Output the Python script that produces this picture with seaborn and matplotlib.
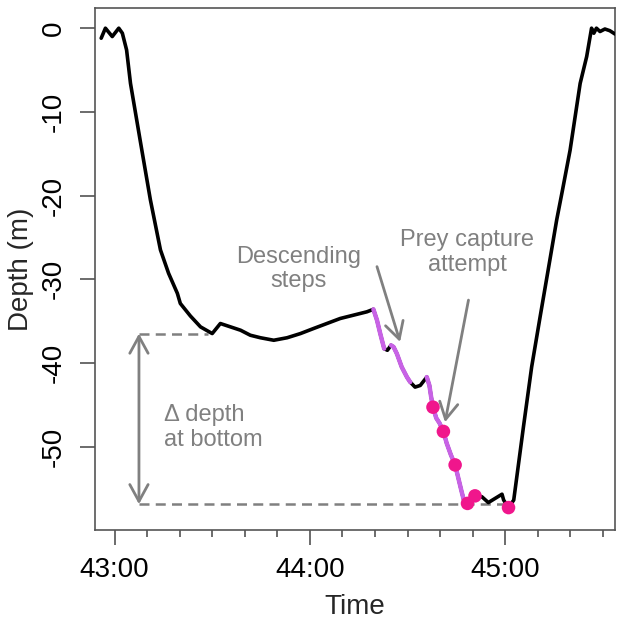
import numpy as np
import pandas as pd
import matplotlib
matplotlib.use("Agg")
import matplotlib.pyplot as plt
from matplotlib.ticker import MultipleLocator
import seaborn as sns

# Dive profile, time in seconds after 43:00, depth in metres
time_s = [-4.1, -2.8, -0.7, 1.3, 2.4,
          3.7, 4.9, 8.0, 11.0, 14.1, 16.6, 19.3, 20.2, 23.3, 26.4, 30.0,
          32.5, 35.6, 38.7, 41.7, 44.8, 48.9, 53.0, 57.1, 61.1, 65.2, 69.3,
          73.4, 77.5, 79.5,
          80.6, 81.6, 82.8, 83.8, 84.9, 85.7, 86.7, 88.2, 89.8, 90.8, 92.3,
          93.9, 95.9, 96.7, 97.2, 97.8, 98.8, 99.8, 101.0, 102.0, 103.3,
          104.6, 105.6, 106.6, 107.4, 108.4, 110.7, 112.8, 114.8, 116.9,
          119.0, 119.5, 121.0,
          122.6, 125.6, 128.1, 130.7, 133.7, 135.8, 137.5, 139.9, 143.0,
          145.0, 146.5, 147.2, 148.0, 149.1, 150.6, 152.1, 153.7]
depth_m = [-1.2, 0.0, -1.0, 0.0, -0.6,
           -2.6, -6.6, -13.7, -20.5, -26.5, -29.3, -31.7, -32.9, -34.4, -35.7, -36.5,
           -35.3, -35.7, -36.1, -36.7, -37.0, -37.3, -37.0, -36.5, -35.9, -35.3, -34.7,
           -34.3, -33.9, -33.6,
           -34.9, -36.5, -38.3, -38.5, -37.9, -38.1, -38.9, -40.5, -41.7, -42.3, -42.9,
           -42.7, -41.7, -42.7, -44.0, -45.3, -46.6, -47.2, -48.2, -49.6, -51.0,
           -52.2, -53.8, -55.4, -56.6, -56.8, -55.9, -56.0, -56.7, -56.2,
           -55.7, -56.4, -57.3,
           -56.4, -47.6, -40.5, -34.5, -27.7, -22.9, -19.5, -14.6, -6.6,
           -3.4, 0.0, -0.6, 0.0, -0.4, -0.1, -0.3, -0.7]

# Descending steps (start, end) in seconds after 43:00
step_windows = [(79.5, 82.8), (84.9, 90.8), (95.9, 110.7)]

# Prey capture attempts
capture_time = [97.8, 101.0, 104.6, 108.4, 110.7, 121.0]
capture_depth = [-45.3, -48.2, -52.2, -56.8, -55.9, -57.3]

# Depth at start and end of bottom phase
bottom_depths = [-36.5, -56.9]

tick_seconds = [0, 60, 120]
tick_labels = ["43:00", "44:00", "45:00"]
ytick_values = [0, -10, -20, -30, -40, -50]
ytick_labels = ["0", "-10", "-20", "-30", "-40", "-50"]

dive = pd.DataFrame({"time": time_s, "depth": depth_m})
steps = pd.concat([dive[(dive["time"] >= a) & (dive["time"] <= b)].assign(step=i)
                   for i, (a, b) in enumerate(step_windows)])
captures = pd.DataFrame({"time": capture_time, "depth": capture_depth})

sns.set_theme(style="ticks")
plt.rcParams["font.family"] = ["Liberation Sans", "DejaVu Sans"]
plt.rcParams["axes.unicode_minus"] = False

grey = "#808080"
fig = plt.figure(figsize=(6.25, 6.23), dpi=100)
ax = fig.add_axes([0.152, 0.149, 0.832, 0.838])

# dashed guide lines for depth change at bottom
ax.plot([7.5, 28.8], [bottom_depths[0]] * 2, ls=(0, (4, 2.5)), color=grey, lw=1.8, zorder=1)
ax.plot([7.5, 121.0], [bottom_depths[1]] * 2, ls=(0, (4, 2.5)), color=grey, lw=1.8, zorder=1)

sns.lineplot(data=dive, x="time", y="depth", color="black", lw=2.6, sort=False,
             estimator=None, ax=ax, zorder=3)
sns.lineplot(data=steps, x="time", y="depth", units="step", color="#c862e6", lw=3.2,
             sort=False, estimator=None, ax=ax, zorder=4)
sns.scatterplot(data=captures, x="time", y="depth", color="#f0168c", s=95,
                edgecolor="none", ax=ax, zorder=5)

arrow = dict(arrowstyle="->,head_length=0.55,head_width=0.3", color=grey, lw=2,
             shrinkA=0, shrinkB=0, mutation_scale=22)
ax.annotate("", xy=(87.7, -37.5), xytext=(80.6, -28.5), arrowprops=arrow)
ax.annotate("", xy=(101.5, -47.1), xytext=(108.7, -32.5), arrowprops=arrow)
ax.annotate("", xy=(7.5, bottom_depths[1]), xytext=(7.5, bottom_depths[0]),
            arrowprops=dict(arrow, arrowstyle="<->,head_length=0.55,head_width=0.3"))

ax.text(56.4, -28.8, "Descending\nsteps", ha="center", va="center", color=grey,
        fontsize=17, linespacing=1.15)
ax.text(108.3, -26.8, "Prey capture\nattempt", ha="center", va="center", color=grey,
        fontsize=17, linespacing=1.15)
ax.text(15.3, -47.7, "Δ depth\nat bottom", ha="left", va="center", color=grey,
        fontsize=17, linespacing=1.15)

ax.set_xlim(-6.0, 153.7)
ax.set_ylim(-60.0, 2.4)
ax.set_xticks(tick_seconds, tick_labels)
ax.xaxis.set_minor_locator(MultipleLocator(10))
ax.set_yticks(ytick_values, ytick_labels, rotation=90, va="center")
ax.tick_params(axis="both", which="major", length=11, width=1.1, color="#444444",
               labelsize=20, labelcolor="black")
ax.tick_params(axis="x", which="major", pad=8)
ax.tick_params(axis="y", which="major", pad=9)
ax.tick_params(axis="x", which="minor", length=5, width=1.1, color="#444444")
for sp in ax.spines.values():
    sp.set_color("#555555")
    sp.set_linewidth(1.2)

ax.set_xlabel("Time", fontsize=20, labelpad=8)
ax.set_ylabel("Depth (m)", fontsize=20, labelpad=5)

fig.savefig("out.png", dpi=100)
